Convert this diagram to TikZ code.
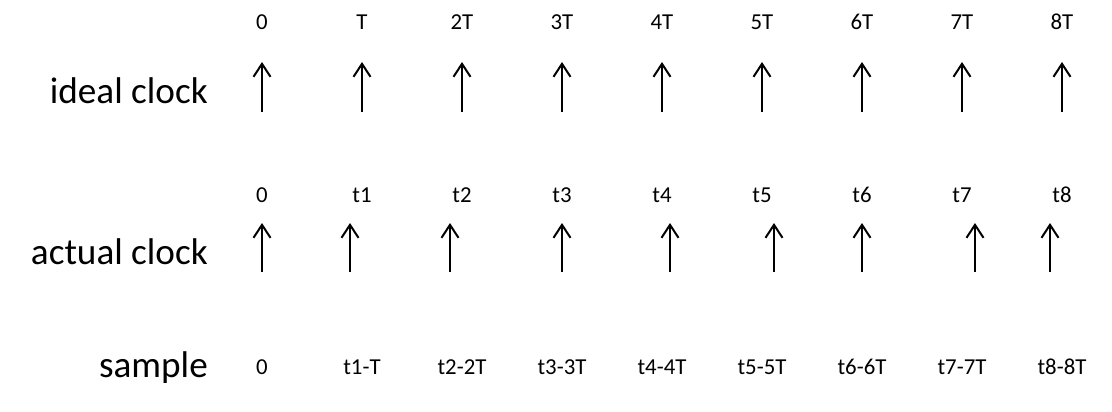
\documentclass[tikz,border=0pt]{standalone}
\usepackage{fontspec}
\setmainfont{Carlito}
\usetikzlibrary{arrows.meta}
\tikzstyle{clk} = [line width=2pt, -{Straight Barb[length=13pt,width=17pt]}]
\tikzstyle{rowname} = [font=\fontsize{37.2}{40}\selectfont, anchor=base east]
\tikzstyle{tick} = [font=\fontsize{22.8}{26}\selectfont, anchor=base]
\begin{document}
\begin{tikzpicture}[
  x=1pt, y=-1pt,
  every node/.style={inner sep=0pt},
]
\useasboundingbox (0,0) rectangle (1112,412);
% row names
\node[rowname] (ideal) at (208,103) {ideal clock};
\node[rowname] (actual) at (208,264) {actual clock};
\node[rowname] (sample) at (208,377) {sample};
% ideal times
\node[tick] (i0) at (262,30) {0};
\node[tick] (i1) at (362,30) {T};
\node[tick] (i2) at (462,30) {2T};
\node[tick] (i3) at (562,30) {3T};
\node[tick] (i4) at (662,30) {4T};
\node[tick] (i5) at (762,30) {5T};
\node[tick] (i6) at (862,30) {6T};
\node[tick] (i7) at (962,30) {7T};
\node[tick] (i8) at (1062,30) {8T};
% ideal edges
\coordinate (ib0) at (262,112); \coordinate (it0) at (262,62);
\coordinate (ib1) at (362,112); \coordinate (it1) at (362,62);
\coordinate (ib2) at (462,112); \coordinate (it2) at (462,62);
\coordinate (ib3) at (562,112); \coordinate (it3) at (562,62);
\coordinate (ib4) at (662,112); \coordinate (it4) at (662,62);
\coordinate (ib5) at (762,112); \coordinate (it5) at (762,62);
\coordinate (ib6) at (862,112); \coordinate (it6) at (862,62);
\coordinate (ib7) at (962,112); \coordinate (it7) at (962,62);
\coordinate (ib8) at (1062,112); \coordinate (it8) at (1062,62);
\draw[clk] (ib0) -- (it0);
\draw[clk] (ib1) -- (it1);
\draw[clk] (ib2) -- (it2);
\draw[clk] (ib3) -- (it3);
\draw[clk] (ib4) -- (it4);
\draw[clk] (ib5) -- (it5);
\draw[clk] (ib6) -- (it6);
\draw[clk] (ib7) -- (it7);
\draw[clk] (ib8) -- (it8);
% actual times
\node[tick] (a0) at (262,202) {0};
\node[tick] (a1) at (362,202) {t1};
\node[tick] (a2) at (462,202) {t2};
\node[tick] (a3) at (562,202) {t3};
\node[tick] (a4) at (662,202) {t4};
\node[tick] (a5) at (762,202) {t5};
\node[tick] (a6) at (862,202) {t6};
\node[tick] (a7) at (962,202) {t7};
\node[tick] (a8) at (1062,202) {t8};
% actual edges
\coordinate (ab0) at (262,272); \coordinate (at0) at (262,223);
\coordinate (ab1) at (350,272); \coordinate (at1) at (350,223);
\coordinate (ab2) at (450,272); \coordinate (at2) at (450,223);
\coordinate (ab3) at (562,272); \coordinate (at3) at (562,223);
\coordinate (ab4) at (670,272); \coordinate (at4) at (670,223);
\coordinate (ab5) at (774,272); \coordinate (at5) at (774,223);
\coordinate (ab6) at (862,272); \coordinate (at6) at (862,223);
\coordinate (ab7) at (975,272); \coordinate (at7) at (975,223);
\coordinate (ab8) at (1050,272); \coordinate (at8) at (1050,223);
\draw[clk] (ab0) -- (at0);
\draw[clk] (ab1) -- (at1);
\draw[clk] (ab2) -- (at2);
\draw[clk] (ab3) -- (at3);
\draw[clk] (ab4) -- (at4);
\draw[clk] (ab5) -- (at5);
\draw[clk] (ab6) -- (at6);
\draw[clk] (ab7) -- (at7);
\draw[clk] (ab8) -- (at8);
% samples
\node[tick] (s0) at (262,374) {0};
\node[tick] (s1) at (362,374) {t1-T};
\node[tick] (s2) at (462,374) {t2-2T};
\node[tick] (s3) at (562,374) {t3-3T};
\node[tick] (s4) at (662,374) {t4-4T};
\node[tick] (s5) at (762,374) {t5-5T};
\node[tick] (s6) at (862,374) {t6-6T};
\node[tick] (s7) at (962,374) {t7-7T};
\node[tick] (s8) at (1062,374) {t8-8T};
\end{tikzpicture}
\end{document}
